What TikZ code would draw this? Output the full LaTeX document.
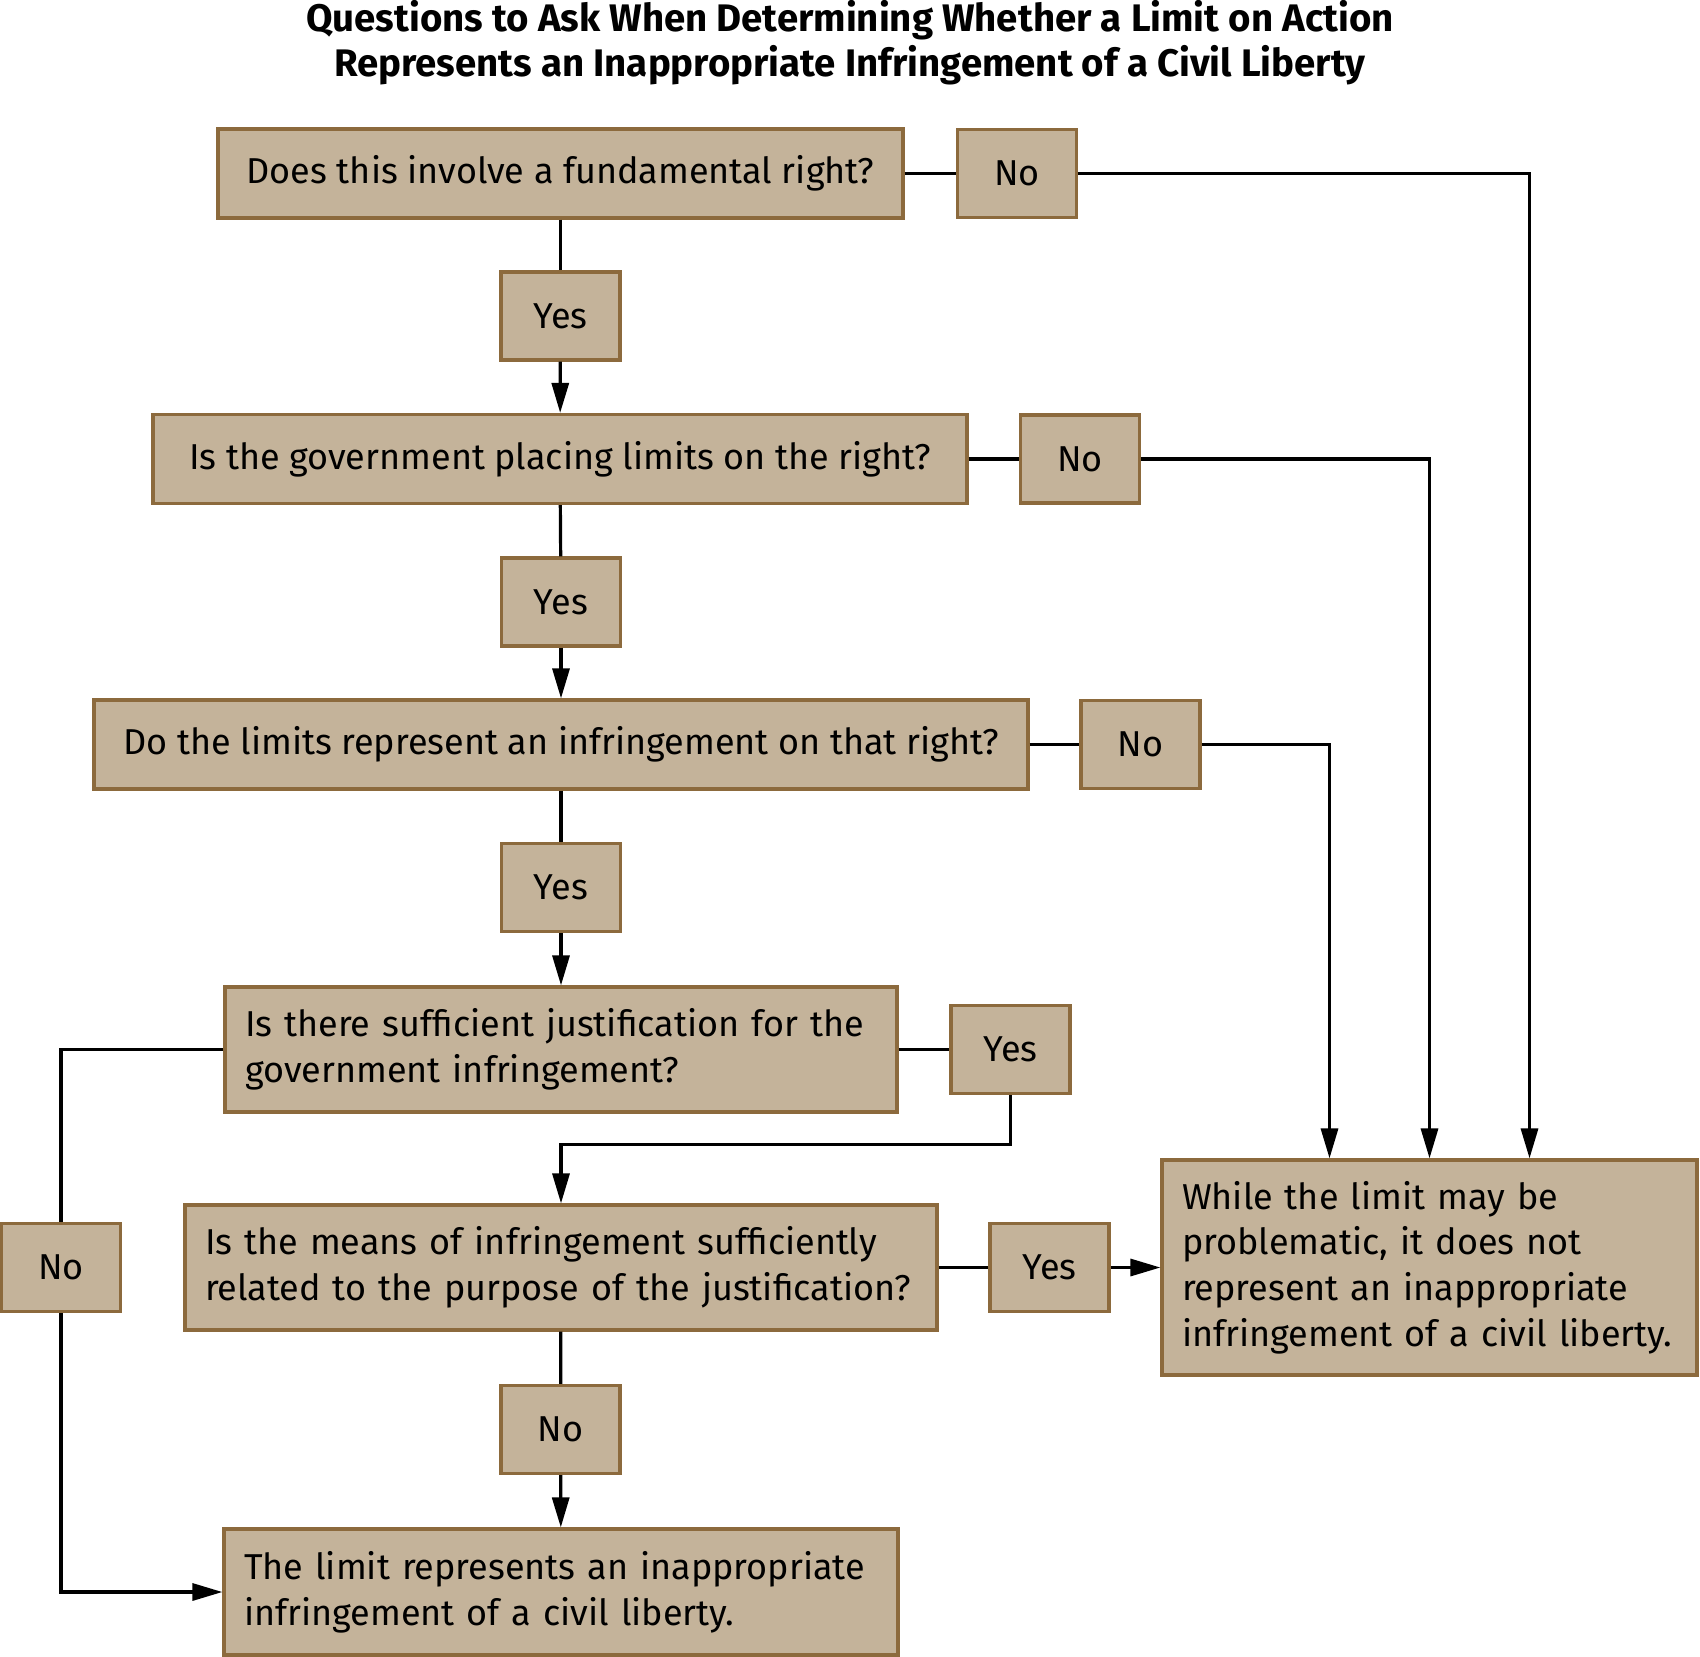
\documentclass[tikz,border=0pt]{standalone}
\usepackage{fontspec}
\setmainfont{Fira Sans}
\usetikzlibrary{arrows.meta,positioning}
\definecolor{boxfill}{HTML}{C4B39A}
\definecolor{boxline}{HTML}{8C6A3D}
\hyphenpenalty=10000

\begin{document}
\begin{tikzpicture}[
  x=0.5pt, y=-0.5pt, line width=1.6pt,
  font=\fontsize{18}{22.8}\selectfont,
  box/.style={draw=boxline, fill=boxfill, line width=1.6pt, inner sep=0pt, align=center},
  ques/.style={box, minimum height=44.5pt},
  tag/.style={box, minimum width=59.5pt, minimum height=44pt},
  wide/.style={box, align=left, inner xsep=10pt, minimum height=62.5pt},
  ar/.style={-{Triangle[length=15pt,width=8.5pt]}}
]
\useasboundingbox (0,0) rectangle (1700,1657);

\node[font=\fontsize{19.2}{22.5}\bfseries\selectfont, align=center] (title) at (850,43)
  {Questions to Ask When Determining Whether a Limit on Action\\
   Represents an Inappropriate Infringement of a Civil Liberty};

\node[ques, minimum width=342.5pt] (q1) at (560.5,173.5) {Does this involve a fundamental right?};
\node[tag] (no1)  at (1017,173.5) {No};
\node[tag] (yes1) at (560.5,316)  {Yes};
\node[ques, minimum width=407pt] (q2) at (560,459) {Is the government placing limits on the right?};
\node[tag] (no2)  at (1080,459)   {No};
\node[tag] (yes2) at (561,602)    {Yes};
\node[ques, minimum width=467pt] (q3) at (561,744.5) {Do the limits represent an infringement on that right?};
\node[tag] (no3)  at (1140.5,744.5) {No};
\node[tag] (yes3) at (561,887.5)  {Yes};
\node[wide, text width=316pt] (q4) at (561,1049.5)
  {Is there sufficient justification for the\\government infringement?};
\node[tag] (yes4) at (1010.5,1049.5) {Yes};
\node[wide, text width=356pt] (q5) at (561,1267.5)
  {Is the means of infringement sufficiently\\related to the purpose of the justification?};
\node[tag] (yes5) at (1049.5,1267.5) {Yes};
\node[tag] (no4)  at (61,1267.5)  {No};
\node[tag] (no5)  at (560.5,1429.5) {No};
\node[wide, text width=317pt, minimum height=63pt] (bad) at (561,1592)
  {The limit represents an inappropriate\\infringement of a civil liberty.};
\node[wide, text width=247.5pt, minimum height=107.5pt] (ok) at (1429.5,1267.5)
  {While the limit may be\\problematic, it does not\\represent an inappropriate\\infringement of a civil liberty.};

\draw      (q1)   -- (no1);
\draw[ar]  (no1.east) -| ([xshift=50pt]ok.north);
\draw      (q1)   -- (yes1);
\draw[ar]  (yes1) -- (q2);
\draw      (q2)   -- (no2);
\draw[ar]  (no2.east) -| (ok.north);
\draw      (q2)   -- (yes2);
\draw[ar]  (yes2) -- (q3);
\draw      (q3)   -- (no3);
\draw[ar]  (no3.east) -| ([xshift=-50pt]ok.north);
\draw      (q3)   -- (yes3);
\draw[ar]  (yes3) -- (q4);
\draw      (q4)   -- (yes4);
\draw[ar]  (yes4.south) -- ++(0,49) -| (q5.north);
\draw      (q4.west) -| (no4.north);
\draw[ar]  (no4.south) |- (bad.west);
\draw      (q5)   -- (yes5);
\draw[ar]  (yes5) -- (ok);
\draw      (q5)   -- (no5);
\draw[ar]  (no5)  -- (bad);
\end{tikzpicture}
\end{document}
